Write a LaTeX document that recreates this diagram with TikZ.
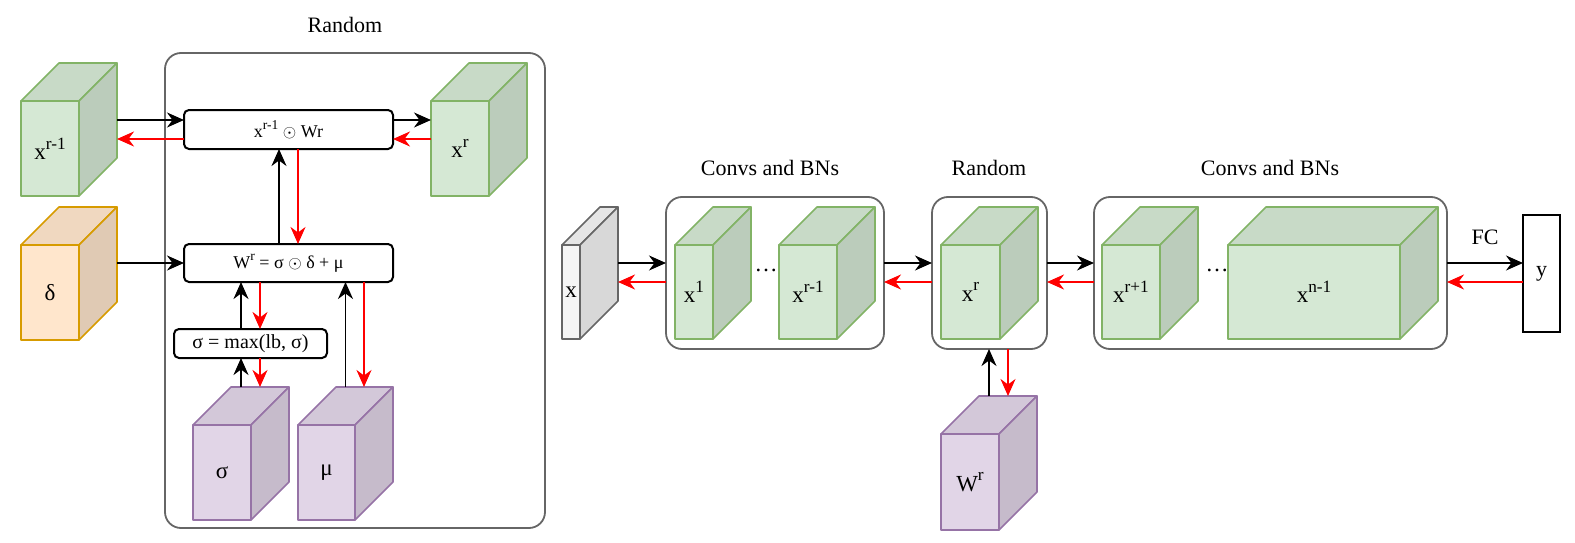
\documentclass[tikz,border=0pt]{standalone}
\usepackage{fontspec}
\setmainfont{Liberation Serif}
\usetikzlibrary{arrows.meta,calc,fit}
\definecolor{gfill}{HTML}{D5E8D4}\definecolor{gline}{HTML}{82B366}
\definecolor{pfill}{HTML}{E1D5E7}\definecolor{pline}{HTML}{9673A6}
\definecolor{ofill}{HTML}{FFE6CC}\definecolor{oline}{HTML}{D79B00}
\definecolor{wfill}{HTML}{F5F5F5}\definecolor{wline}{HTML}{666666}
\definecolor{boxline}{HTML}{666666}
\definecolor{redarrow}{HTML}{FF0000}
\newcommand{\sps}[1]{\raisebox{0.45em}{\scalebox{0.75}{#1}}}
% name, x1, y1, x2, y2 (front face), fill, line, label
\newcommand{\mkcube}[8]{%
  \filldraw[fill=#6, draw=#7, cubeline] (#2,#3) rectangle (#4,#5);
  \filldraw[fill=#6!94!black, draw=#7, cubeline] (#2,#3) -- (#2+38,#3-38) -- (#4+38,#3-38) -- (#4,#3) -- cycle;
  \filldraw[fill=#6!88!black, draw=#7, cubeline] (#4,#3) -- (#4+38,#3-38) -- (#4+38,#5-38) -- (#4,#5) -- cycle;
  \node[fit={(#2,#3-38) (#4+38,#5)}, inner sep=0pt, outer sep=0pt] (#1) {};
  \node[lab] (#1-t) at ({(#2+#4)/2},{(#3+#5)/2}) {#8};
}
\begin{document}
\begin{tikzpicture}[x=1pt,y=-1pt,
  cubeline/.style={line width=1.6pt, line join=round},
  cont/.style={draw=boxline, line width=1.8pt, rounded corners=16pt, anchor=north west, inner sep=0pt, outer sep=0pt},
  opbox/.style={draw=black, line width=2pt, rounded corners=5pt, anchor=north west, inner sep=0pt, outer sep=0pt, font=\fontsize{18}{20}\selectfont},
  blk/.style={draw=black, line width=1.8pt, -{Stealth[length=17pt,width=15pt,inset=5.5pt]}},
  rda/.style={draw=redarrow, line width=1.8pt, -{Stealth[length=17pt,width=15pt,inset=5.5pt]}},
  ttl/.style={font=\fontsize{22}{26}\selectfont},
  lab/.style={font=\fontsize{23}{26}\selectfont, inner sep=0pt},
]
\useasboundingbox (0,0) rectangle (1575,543);

% ---------------- left panel ----------------
\node[cont, minimum width=380pt, minimum height=475pt] (R1) at (165,53) {};
\node[ttl] (t1) at (345,25) {Random};
\node[opbox, minimum width=209pt, minimum height=39pt] (T) at (184,110) {x\sps{r-1} $\odot$ Wr};
\node[opbox, minimum width=209pt, minimum height=38pt] (Wb) at (184,244) {W\sps{r} = σ $\odot$ δ + μ};
\node[opbox, minimum width=153pt, minimum height=29pt, font=\fontsize{20}{22}\selectfont] (S) at (174,329) {σ = max(lb, σ)};

\mkcube{xrm1}{21}{101}{79}{196}{gfill}{gline}{x\sps{r-1}}
\mkcube{xr}{431}{101}{489}{196}{gfill}{gline}{x\sps{r}}
\mkcube{dl}{21}{245}{79}{340}{ofill}{oline}{δ}
\mkcube{sg}{193}{425}{251}{520}{pfill}{pline}{σ}
\mkcube{mu}{298}{425}{355}{520}{pfill}{pline}{μ}

\coordinate (Ta) at ($(T.west)+(0,-9.5)$);
\coordinate (Tb) at ($(T.west)+(0,9.5)$);
\coordinate (Tc) at ($(T.east)+(0,-9.5)$);
\coordinate (Td) at ($(T.east)+(0,9.5)$);
\draw[blk] (xrm1.east |- Ta) -- (Ta);
\draw[rda] (Tb) -- (xrm1.east |- Tb);
\draw[blk] (Tc) -- (xr.west |- Tc);
\draw[rda] (xr.west |- Td) -- (Td);
\draw[blk] (dl.east |- Wb.west) -- (Wb.west);

\coordinate (w1) at ($(Wb.north)+(-9.5,0)$);
\coordinate (w2) at ($(Wb.north)+(9.5,0)$);
\draw[blk] (w1) -- (w1 |- T.south);
\draw[rda] (w2 |- T.south) -- (w2);

\coordinate (s1) at ($(S.north)+(-9.5,0)$);
\coordinate (s2) at ($(S.north)+(9.5,0)$);
\draw[blk] (s1) -- (s1 |- Wb.south);
\draw[rda] (s2 |- Wb.south) -- (s2);
\draw[blk] (s1 |- sg.north) -- (s1 |- S.south);
\draw[rda] (s2 |- S.south) -- (s2 |- sg.north);

\coordinate (m2) at ($(mu.north)+(18.5,0)$);
\draw[blk] (mu.north) -- (mu.north |- Wb.south);
\draw[rda] (m2 |- Wb.south) -- (m2);

% ---------------- right pipeline ----------------
\node[ttl] (t2) at (770,168) {Convs and BNs};
\node[ttl] (t3) at (989,168) {Random};
\node[ttl] (t4) at (1270,168) {Convs and BNs};

\node[cont, minimum width=218pt, minimum height=152pt] (C1) at (666,197) {};
\node[cont, minimum width=115pt, minimum height=152pt] (R2) at (932,197) {};
\node[cont, minimum width=353pt, minimum height=152pt] (C2) at (1094,197) {};

\mkcube{gx}{562}{245}{580}{339}{wfill}{wline}{x}
\mkcube{c1}{675}{245}{713}{339}{gfill}{gline}{x\sps{1}}
\mkcube{c2}{779}{245}{837}{339}{gfill}{gline}{x\sps{r-1}}
\mkcube{c3}{941}{245}{1000}{339}{gfill}{gline}{x\sps{r}}
\mkcube{c4}{1102}{245}{1160}{339}{gfill}{gline}{x\sps{r+1}}
\mkcube{c5}{1228}{245}{1400}{339}{gfill}{gline}{x\sps{n-1}}
\mkcube{wr}{941}{434}{999}{530}{pfill}{pline}{W\sps{r}}

\node[lab, anchor=base] (d1) at (766,271) {\dots};
\node[lab, anchor=base] (d2) at (1217,271) {\dots};

\node[draw=black, line width=1.8pt, anchor=north west, inner sep=0pt, outer sep=0pt, minimum width=37pt, minimum height=117pt, font=\fontsize{22}{24}\selectfont] (yb) at (1523,215) {y};

\coordinate (ra) at ($(C1.west)+(0,-10)$);
\coordinate (rb) at ($(C1.west)+(0,9)$);
\draw[blk] (gx.east |- ra) -- (C1.west |- ra);
\draw[rda] (C1.west |- rb) -- (gx.east |- rb);
\draw[blk] (C1.east |- ra) -- (R2.west |- ra);
\draw[rda] (R2.west |- rb) -- (C1.east |- rb);
\draw[blk] (R2.east |- ra) -- (C2.west |- ra);
\draw[rda] (C2.west |- rb) -- (R2.east |- rb);
\draw[blk] (C2.east |- ra) -- node[ttl, above=14pt] (fc) {FC} (yb.west |- ra);
\draw[rda] (yb.west |- rb) -- (C2.east |- rb);

\coordinate (wq) at ($(wr.north)+(19,0)$);
\draw[blk] (wr.north) -- (wr.north |- R2.south);
\draw[rda] (wq |- R2.south) -- (wq);
\end{tikzpicture}
\end{document}
